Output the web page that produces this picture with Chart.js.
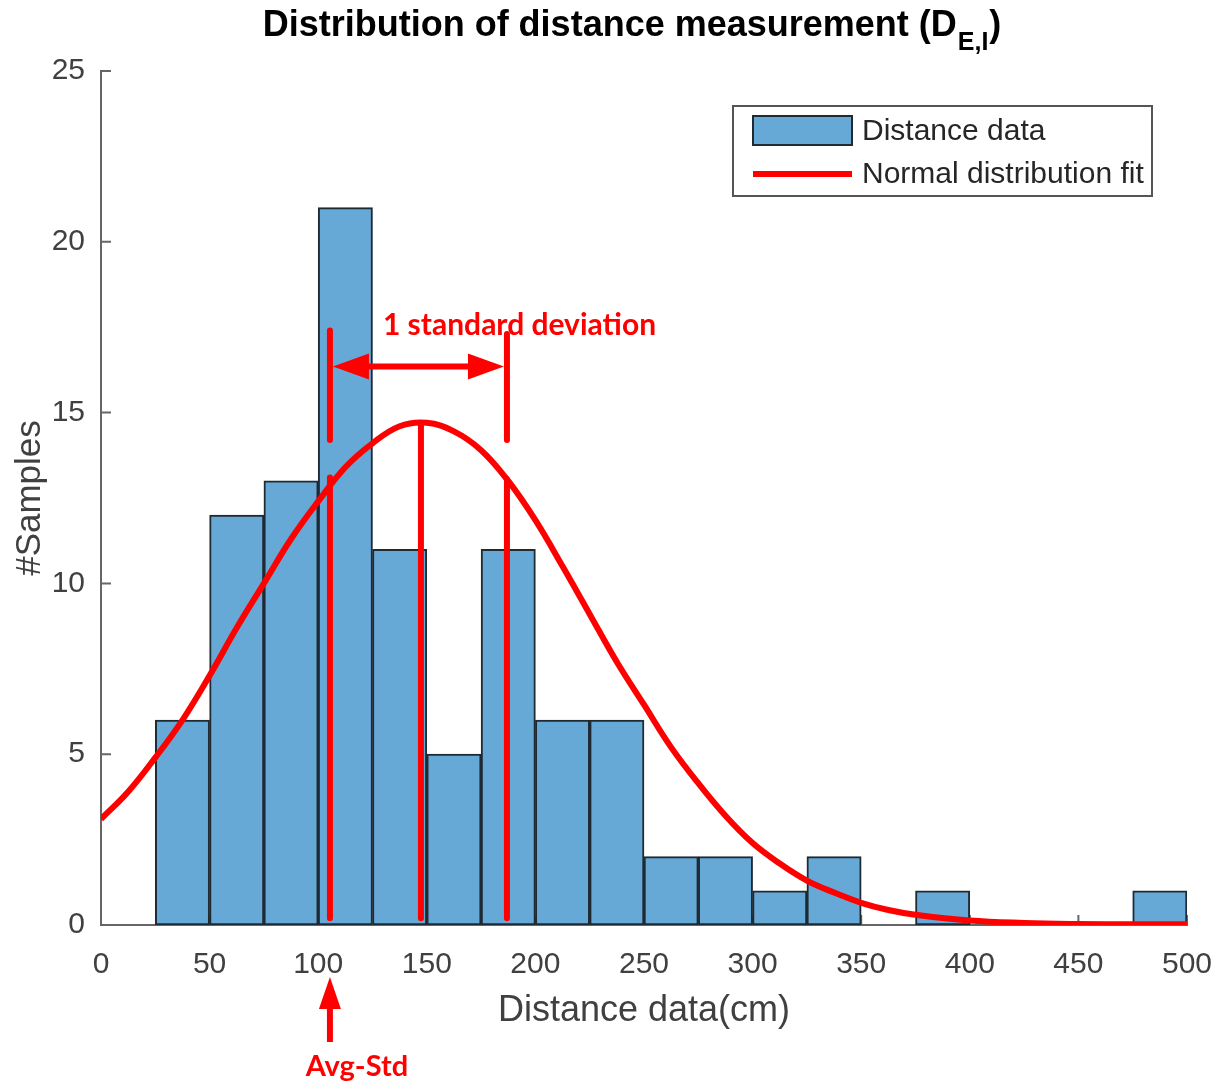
<!DOCTYPE html>
<html>
<head>
<meta charset="utf-8">
<script src="https://cdn.jsdelivr.net/npm/chart.js@4"></script>
<style>
html, body { margin: 0; padding: 0; background: #fff; }
#wrap { width: 1217px; height: 1083px; }
</style>
</head>
<body>
<div id="wrap"><canvas id="graphCanvas" width="1217" height="1083"></canvas></div>
<script>
// Histogram bins, 25 cm wide (centre of each bin)
const binCenters = [12.5, 37.5, 62.5, 87.5, 112.5, 137.5, 162.5, 187.5, 212.5, 237.5,
                    262.5, 287.5, 312.5, 337.5, 362.5, 387.5, 412.5, 437.5, 462.5, 487.5];
const sampleCounts = [0, 6, 12, 13, 21, 11, 5, 11, 6, 6, 2, 2, 1, 2, 0, 1, 0, 0, 0, 1];

// Normal distribution fit
const fitX = [0, 12.5, 25, 37.5, 50, 62.5, 75, 87.5, 100, 112.5, 125, 137.5, 150, 162.5, 175, 187.5,
              200, 212.5, 225, 237.5, 250, 262.5, 275, 287.5, 300, 312.5, 325, 337.5, 350, 362.5,
              375, 400, 425, 450, 475, 500];
const fitY = [3.1, 3.9, 4.9, 6.0, 7.3, 8.7, 10.0, 11.3, 12.4, 13.4, 14.1, 14.6, 14.7, 14.45, 13.9, 13.0,
              11.85, 10.5, 9.1, 7.7, 6.45, 5.2, 4.15, 3.2, 2.4, 1.8, 1.3, 0.95, 0.65, 0.44,
              0.3, 0.13, 0.06, 0.03, 0.02, 0.02];

const xTicks = [0, 50, 100, 150, 200, 250, 300, 350, 400, 450, 500];
const yTicks = [0, 5, 10, 15, 20, 25];

// Hand-drawn annotations: avg-std, avg, avg+std
const markerX = [105.4, 147.3, 186.9];
const markerTop = [17.4, 14.65, 17.3];
const markerGapTop = [14.2, null, 14.2];
const markerGapBottom = [13.1, null, 13.05];
const markerBottom = 0.2;
const stdArrowY = 16.35;
const stdLabel = '1 standard deviation';
const stdLabelX = 129.8;
const stdLabelY = 17.55;
const avgStdLabel = 'Avg-Std';

const RED = '#ff0000';
const AXIS = '#666666';
const TEXT = '#404040';
const FONT = 'Liberation Sans, Arial, sans-serif';

// inward tick marks (MATLAB style)
const insideTicks = {
    id: 'insideTicks',
    beforeDatasetsDraw(chart) {
        const { ctx, chartArea } = chart;
        const xs = chart.scales.x, ys = chart.scales.y;
        ctx.save();
        ctx.strokeStyle = AXIS;
        ctx.lineWidth = 2;
        ctx.beginPath();
        xTicks.forEach(v => {
            const px = xs.getPixelForValue(v);
            ctx.moveTo(px, chartArea.bottom);
            ctx.lineTo(px, chartArea.bottom - 10);
        });
        yTicks.forEach(v => {
            const py = ys.getPixelForValue(v);
            ctx.moveTo(chartArea.left, py);
            ctx.lineTo(chartArea.left + 10, py);
        });
        ctx.stroke();
        ctx.restore();
    }
};

const arrowHead = (ctx, tipX, tipY, dx, dy, len, half) => {
    // dx,dy: unit direction the arrow points to
    const bx = tipX - dx * len, by = tipY - dy * len;
    ctx.beginPath();
    ctx.moveTo(tipX, tipY);
    ctx.lineTo(bx - dy * half, by + dx * half);
    ctx.lineTo(bx + dy * half, by - dx * half);
    ctx.closePath();
    ctx.fill();
};

const annotations = {
    id: 'annotations',
    afterDatasetsDraw(chart) {
        const { ctx, chartArea } = chart;
        const xs = chart.scales.x, ys = chart.scales.y;
        ctx.save();
        ctx.strokeStyle = RED;
        ctx.fillStyle = RED;
        ctx.lineWidth = 6;
        ctx.lineCap = 'round';

        markerX.forEach((v, i) => {
            const px = xs.getPixelForValue(v);
            ctx.beginPath();
            if (markerGapTop[i] === null) {
                ctx.moveTo(px, ys.getPixelForValue(markerTop[i]));
                ctx.lineTo(px, ys.getPixelForValue(markerBottom));
            } else {
                ctx.moveTo(px, ys.getPixelForValue(markerTop[i]));
                ctx.lineTo(px, ys.getPixelForValue(markerGapTop[i]));
                ctx.moveTo(px, ys.getPixelForValue(markerGapBottom[i]));
                ctx.lineTo(px, ys.getPixelForValue(markerBottom));
            }
            ctx.stroke();
        });

        // double arrow for one standard deviation
        const ay = ys.getPixelForValue(stdArrowY);
        const ax1 = xs.getPixelForValue(markerX[0]) + 3;
        const ax2 = xs.getPixelForValue(markerX[2]) - 3;
        ctx.lineCap = 'butt';
        ctx.beginPath();
        ctx.moveTo(ax1 + 30, ay);
        ctx.lineTo(ax2 - 30, ay);
        ctx.stroke();
        arrowHead(ctx, ax1, ay, -1, 0, 36, 13);
        arrowHead(ctx, ax2, ay, 1, 0, 36, 13);

        ctx.font = 'bold 30px Lato, "Open Sans", sans-serif';
        ctx.textAlign = 'left';
        ctx.textBaseline = 'middle';
        ctx.fillText(stdLabel, xs.getPixelForValue(stdLabelX), ys.getPixelForValue(stdLabelY));

        // Avg-Std arrow under the axis
        const sx = xs.getPixelForValue(markerX[0]);
        ctx.beginPath();
        ctx.lineWidth = 6;
        ctx.moveTo(sx, chartArea.bottom + 117);
        ctx.lineTo(sx, chartArea.bottom + 80);
        ctx.stroke();
        arrowHead(ctx, sx, chartArea.bottom + 52, 0, -1, 32, 11);
        ctx.font = 'bold 29px Lato, "Open Sans", sans-serif';
        ctx.textAlign = 'center';
        ctx.fillText(avgStdLabel, sx + 27, chartArea.bottom + 142);
        ctx.restore();
    }
};

// legend box in the upper right of the plot area
const boxLegend = {
    id: 'boxLegend',
    afterDraw(chart) {
        const { ctx, chartArea } = chart;
        const right = chartArea.right - 35, top = chartArea.top + 35;
        const w = 419, h = 90, left = right - w;
        ctx.save();
        ctx.fillStyle = '#ffffff';
        ctx.fillRect(left, top, w, h);
        ctx.strokeStyle = '#555555';
        ctx.lineWidth = 2;
        ctx.strokeRect(left, top, w, h);

        const bars = chart.data.datasets[1], fit = chart.data.datasets[0];
        ctx.fillStyle = bars.backgroundColor;
        ctx.fillRect(left + 20, top + 10, 99, 29);
        ctx.strokeStyle = '#1f2a33';
        ctx.strokeRect(left + 20, top + 10, 99, 29);
        ctx.strokeStyle = fit.borderColor;
        ctx.lineWidth = 6;
        ctx.beginPath();
        ctx.moveTo(left + 20, top + 68);
        ctx.lineTo(left + 119, top + 68);
        ctx.stroke();

        ctx.fillStyle = '#262626';
        ctx.font = '30px ' + FONT;
        ctx.textAlign = 'left';
        ctx.textBaseline = 'middle';
        ctx.fillText(bars.label, left + 129, top + 26);
        ctx.fillText(fit.label, left + 129, top + 69);
        ctx.restore();
    }
};

// title with subscript
const subTitle = {
    id: 'subTitle',
    afterDraw(chart) {
        const { ctx, chartArea } = chart;
        const main = 'Distribution of distance measurement (D', sub = 'E,I', close = ')';
        ctx.save();
        ctx.fillStyle = '#000000';
        ctx.textBaseline = 'alphabetic';
        ctx.textAlign = 'left';
        ctx.font = 'bold 36px ' + FONT;
        const wMain = ctx.measureText(main).width;
        const wClose = ctx.measureText(close).width;
        ctx.font = 'bold 25px ' + FONT;
        const wSub = ctx.measureText(sub).width;
        const cx = (chartArea.left + chartArea.right) / 2 - 13;
        let x = cx - (wMain + wSub + wClose) / 2;
        ctx.font = 'bold 36px ' + FONT;
        ctx.fillText(main, x, 36);
        x += wMain;
        ctx.font = 'bold 25px ' + FONT;
        ctx.fillText(sub, x + 1, 50);
        x += wSub + 2;
        ctx.font = 'bold 36px ' + FONT;
        ctx.fillText(close, x, 36);
        ctx.restore();
    }
};

const renderGraph = () => {
    const ctx = document.getElementById('graphCanvas').getContext('2d');
    new Chart(ctx, {
        type: 'bar',
        data: {
            datasets: [
                {
                    type: 'line',
                    label: 'Normal distribution fit',
                    data: fitX.map((x, i) => ({ x: x, y: fitY[i] })),
                    borderColor: RED,
                    borderWidth: 6,
                    pointRadius: 0,
                    tension: 0.4,
                    order: 0
                },
                {
                    type: 'bar',
                    label: 'Distance data',
                    data: binCenters.map((x, i) => ({ x: x, y: sampleCounts[i] })),
                    backgroundColor: '#66a9d7',
                    borderColor: '#1f2a33',
                    borderWidth: 2,
                    borderSkipped: false,
                    barPercentage: 1,
                    categoryPercentage: 1,
                    order: 1
                }
            ]
        },
        options: {
            responsive: false,
            animation: false,
            layout: { padding: { top: 71, right: 30, left: 0, bottom: 0 } },
            plugins: {
                legend: { display: false },
                tooltip: { enabled: false }
            },
            scales: {
                x: {
                    type: 'linear',
                    min: 0,
                    max: 500,
                    offset: false,
                    afterBuildTicks: s => { s.ticks = xTicks.map(v => ({ value: v })); },
                    afterFit: s => { s.height = 158; s.paddingLeft = 0; s.paddingRight = 0; },
                    grid: { display: false, drawTicks: false },
                    border: { color: AXIS, width: 2 },
                    ticks: { padding: 22, color: TEXT, maxRotation: 0, font: { family: FONT, size: 30 } },
                    title: {
                        display: true,
                        text: 'Distance data(cm)',
                        color: TEXT,
                        font: { family: FONT, size: 36 },
                        padding: { top: 0, bottom: 50 }
                    }
                },
                y: {
                    min: 0,
                    max: 25,
                    afterBuildTicks: s => { s.ticks = yTicks.map(v => ({ value: v })); },
                    afterFit: s => { s.width = 101; },
                    grid: { display: false, drawTicks: false },
                    border: { color: AXIS, width: 2 },
                    ticks: { padding: 16, color: TEXT, font: { family: FONT, size: 30 } },
                    title: {
                        display: true,
                        text: '#Samples',
                        color: TEXT,
                        font: { family: FONT, size: 35 },
                        padding: { top: 9, bottom: 0 }
                    }
                }
            }
        },
        plugins: [insideTicks, annotations, boxLegend, subTitle]
    });
};

renderGraph();
</script>
</body>
</html>
